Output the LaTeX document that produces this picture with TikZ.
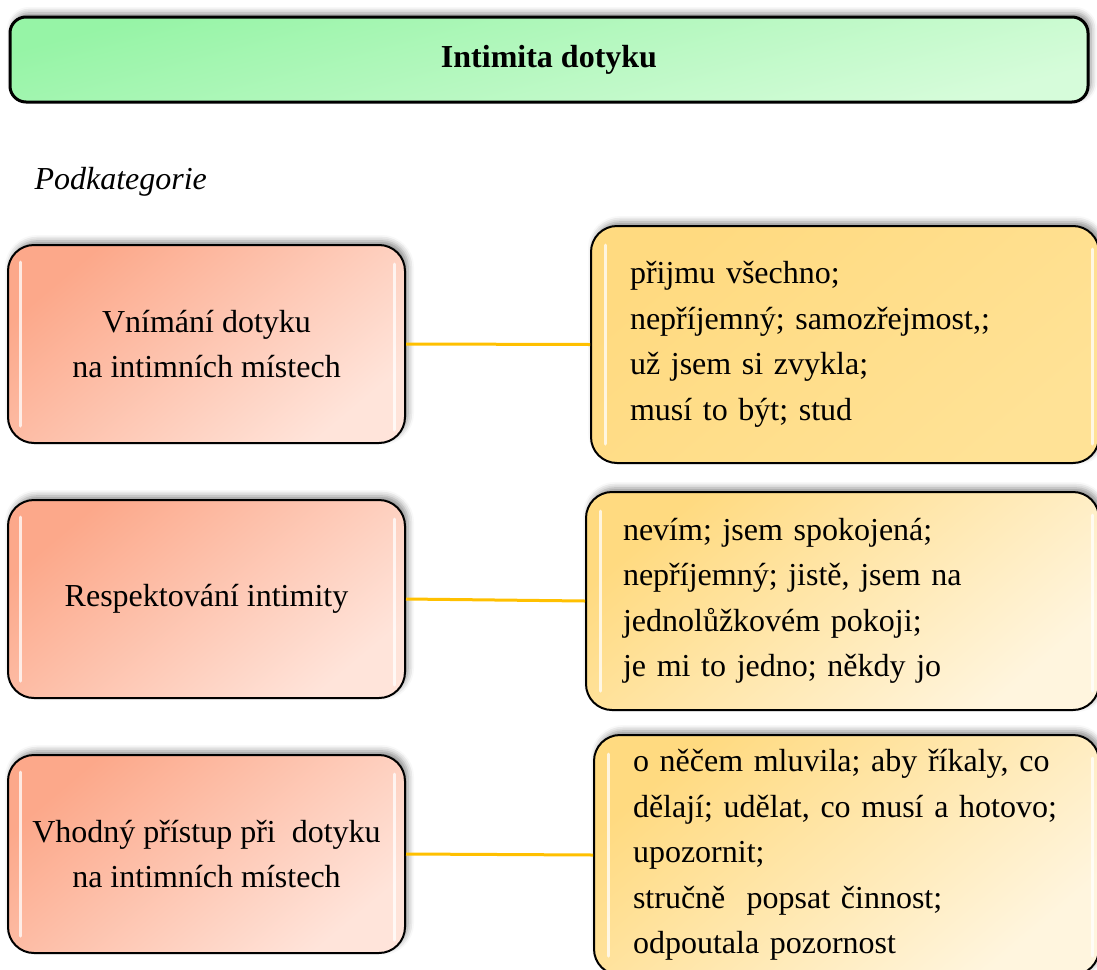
\documentclass[tikz,border=0pt]{standalone}
\usepackage{fontspec}
\setmainfont{Liberation Serif}
\usetikzlibrary{shadows.blur}
\definecolor{greenA}{RGB}{150,244,166}
\definecolor{greenB}{RGB}{214,252,218}
\definecolor{peachA}{RGB}{252,168,138}
\definecolor{peachB}{RGB}{255,228,218}
\definecolor{goldA}{RGB}{255,218,128}
\definecolor{goldB}{RGB}{255,226,150}
\definecolor{creamB}{RGB}{255,245,222}
\definecolor{linkcol}{RGB}{255,192,0}
\tikzset{
  boxshadow/.style={blur shadow={shadow xshift=3pt, shadow yshift=4pt, shadow blur radius=6pt, shadow opacity=45}},
  titlebox/.style={draw=black, line width=3pt, rounded corners=16pt, boxshadow,
    top color=greenA, bottom color=greenB, shading angle=15,
    minimum width=1078pt, minimum height=85pt, inner sep=0pt,
    font=\fontsize{32}{38}\selectfont\bfseries},
  catbox/.style={draw=black, line width=2pt, rounded corners=26pt, boxshadow,
    top color=peachA, bottom color=peachB, shading angle=40,
    minimum width=397pt, minimum height=198pt, inner sep=0pt, align=center,
    font=\fontsize{32}{45}\selectfont},
  ansbox/.style={draw=black, line width=2pt, rounded corners=26pt, boxshadow,
    inner ysep=0pt, align=left, anchor=west,
    font=\fontsize{32}{45.5}\selectfont},
  gloss/.style={draw=white, line width=3pt, line cap=round, opacity=0.75},
  link/.style={draw=linkcol, line width=3pt},
}
\begin{document}
\begin{tikzpicture}[x=1pt, y=-1pt]
  \useasboundingbox (0,0) rectangle (1097,969);

  % heading
  \node[titlebox] (title) at (549,59.5) {Intimita dotyku};
  \node[anchor=base west, font=\fontsize{32}{38}\selectfont\itshape] (sub) at (31,189) {Podkategorie};

  % subcategories
  \node[catbox] (c1) at (206.5,344) {Vnímání dotyku\\na intimních místech};
  \node[catbox] (c2) at (206.5,599) {Respektování intimity};
  \node[catbox] (c3) at (206.5,854) {Vhodný přístup při\ \ dotyku\\na intimních místech};

  % answers
  \node[ansbox, top color=goldA, bottom color=goldB, shading angle=40,
        minimum height=237pt, inner xsep=39pt, text width=430pt] (a1) at (590,344.5)
    {přijmu všechno;\\nepříjemný; samozřejmost,;\\už jsem si zvykla;\\musí to být; stud};
  \node[ansbox, top color=goldA, bottom color=creamB, shading angle=40,
        minimum height=218pt, inner xsep=37pt, text width=439pt] (a2) at (585,601)
    {nevím; jsem spokojená;\\nepříjemný; jistě, jsem na\\jednolůžkovém pokoji;\\je mi to jedno; někdy jo};
  \node[ansbox, top color=goldA, bottom color=creamB, shading angle=40,
        minimum height=240pt, inner xsep=39pt, text width=427pt] (a3) at (593,855)
    {o něčem mluvila; aby říkaly, co\\dělají; udělat, co musí a hotovo;\\upozornit;\\stručně\ \ popsat činnost;\\odpoutala pozornost};

  % glossy highlights along the sides
  \foreach \n in {c1,c2,c3}{
    \draw[gloss] ([xshift=13pt,yshift=-18pt]\n.north west) -- ([xshift=13pt,yshift=18pt]\n.south west);
    \draw[gloss] ([xshift=-12pt,yshift=-20pt]\n.north east) -- ([xshift=-12pt,yshift=14pt]\n.south east);
  }
  \foreach \n in {a1,a2,a3}{
    \draw[gloss] ([xshift=15pt,yshift=-20pt]\n.north west) -- ([xshift=15pt,yshift=20pt]\n.south west);
    \draw[gloss] ([xshift=-8pt,yshift=-24pt]\n.north east) -- ([xshift=-8pt,yshift=20pt]\n.south east);
  }

  % connectors
  \draw[link] (c1.east) -- (a1.west);
  \draw[link] (c2.east) -- (a2.west);
  \draw[link] (c3.east) -- (a3.west);
\end{tikzpicture}
\end{document}
